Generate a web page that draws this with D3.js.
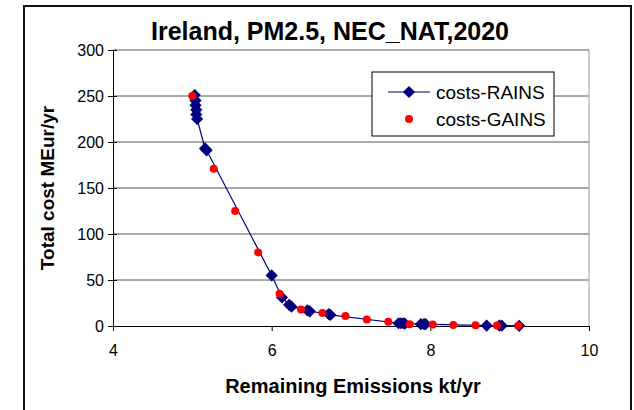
<!DOCTYPE html>
<html>
<head>
<meta charset="utf-8">
<script src="https://cdn.jsdelivr.net/npm/d3@7"></script>
<style>
  body { margin: 0; background: #fff; }
  svg { display: block; font-family: Arial, "Liberation Sans", sans-serif; }
</style>
</head>
<body>
<div id="chart"></div>
<script>
// costs-RAINS curve (emissions kt/yr, cost MEur/yr)
const rainsX = [5.03, 5.04, 5.04, 5.05, 5.05, 5.06, 5.16, 5.18, 6.00, 6.13, 6.22, 6.25, 6.45, 6.48, 6.72, 6.74, 7.60, 7.63, 7.66, 7.68, 7.88, 7.92, 7.94, 8.71, 8.87, 8.90, 9.12];
const rainsY = [251, 245, 240, 235, 230, 225, 193, 191, 55, 31, 23, 21, 17, 16, 13, 12, 3, 3, 3, 2.5, 2, 2, 2, 0.5, 0.5, 0.4, 0.2];
// costs-GAINS points
const gainsX = [5.00, 5.27, 5.54, 5.83, 6.10, 6.37, 6.64, 6.93, 7.20, 7.47, 7.74, 8.03, 8.29, 8.57, 8.84, 9.11];
const gainsY = [250, 171, 125, 80, 35, 18, 14, 11, 7, 4.5, 2, 1.5, 1.2, 0.8, 0.5, 0.3];

const xTicks = [4, 6, 8, 10];
const yTicks = [0, 50, 100, 150, 200, 250, 300];

const W = 634, H = 410;
const plot = { left: 113, right: 589, top: 50, bottom: 326 };

const svg = d3.select('#chart').append('svg')
    .attr('width', W)
    .attr('height', H);

// chart area frame
svg.append('rect')
    .attr('x', 24).attr('y', 6)
    .attr('width', 607).attr('height', 420)
    .attr('fill', '#fff')
    .attr('stroke', '#111')
    .attr('stroke-width', 2);

const x = d3.scaleLinear().domain([4, 10]).range([plot.left, plot.right]);
const y = d3.scaleLinear().domain([0, 300]).range([plot.bottom, plot.top]);

// gridlines
svg.append('g')
    .selectAll('line')
    .data(yTicks.filter(d => d > 0))
    .join('line')
    .attr('x1', plot.left).attr('x2', plot.right)
    .attr('y1', d => y(d)).attr('y2', d => y(d))
    .attr('stroke', '#555')
    .attr('stroke-width', 1);

// plot area right border
svg.append('line')
    .attr('x1', plot.right).attr('x2', plot.right)
    .attr('y1', plot.top).attr('y2', plot.bottom)
    .attr('stroke', '#999');

// axes
const yAxis = d3.axisLeft(y).tickValues(yTicks).tickFormat(d3.format('d'))
    .tickSizeInner(5).tickSizeOuter(0).tickPadding(4);
const gy = svg.append('g').attr('transform', `translate(${plot.left},0)`).call(yAxis);
gy.selectAll('.tick line').attr('x2', -5).attr('x1', 4);

const xAxis = d3.axisBottom(x).tickValues(xTicks).tickFormat(d3.format('d'))
    .tickSizeInner(5).tickSizeOuter(0).tickPadding(14);
const gx = svg.append('g').attr('transform', `translate(0,${plot.bottom})`).call(xAxis);

[gx, gy].forEach(g => {
    g.select('.domain').attr('stroke', '#000');
    g.selectAll('.tick line').attr('stroke', '#000');
    g.selectAll('text').attr('font-size', 16).attr('fill', '#000')
        .attr('font-family', 'Arial, "Liberation Sans", sans-serif');
});

// RAINS line + diamonds
const rains = rainsX.map((v, i) => [v, rainsY[i]]);
const gains = gainsX.map((v, i) => [v, gainsY[i]]);

svg.append('path')
    .datum(rains)
    .attr('fill', 'none')
    .attr('stroke', '#000080')
    .attr('stroke-width', 1.2)
    .attr('d', d3.line().x(d => x(d[0])).y(d => y(d[1])));

const diamond = d3.symbol().type(d3.symbolDiamond2).size(95);

svg.append('g')
    .selectAll('path')
    .data(rains)
    .join('path')
    .attr('transform', d => `translate(${x(d[0])},${y(d[1])})`)
    .attr('d', diamond)
    .attr('fill', '#000080');

svg.append('g')
    .selectAll('circle')
    .data(gains)
    .join('circle')
    .attr('cx', d => x(d[0]))
    .attr('cy', d => y(d[1]))
    .attr('r', 4)
    .attr('fill', '#ff0000');

// title & axis titles
svg.append('text')
    .attr('x', 330).attr('y', 40)
    .attr('text-anchor', 'middle')
    .attr('font-size', 25).attr('font-weight', 'bold')
    .text('Ireland, PM2.5, NEC_NAT,2020');

svg.append('text')
    .attr('x', 353).attr('y', 393)
    .attr('text-anchor', 'middle')
    .attr('font-size', 20).attr('font-weight', 'bold')
    .text('Remaining Emissions kt/yr');

svg.append('text')
    .attr('transform', `translate(54,${(plot.top + plot.bottom) / 2}) rotate(-90)`)
    .attr('text-anchor', 'middle')
    .attr('font-size', 19).attr('font-weight', 'bold')
    .text('Total cost MEur/yr');

// legend
const lg = svg.append('g').attr('transform', 'translate(372,72)');
lg.append('rect')
    .attr('width', 182).attr('height', 64)
    .attr('fill', '#fff')
    .attr('stroke', '#000');
lg.append('line')
    .attr('x1', 16).attr('x2', 58).attr('y1', 20).attr('y2', 20)
    .attr('stroke', '#000080').attr('stroke-width', 1.2);
lg.append('path')
    .attr('transform', 'translate(37,20)')
    .attr('d', diamond)
    .attr('fill', '#000080');
lg.append('circle')
    .attr('cx', 37).attr('cy', 47).attr('r', 4)
    .attr('fill', '#ff0000');
lg.selectAll('text.lbl')
    .data(['costs-RAINS', 'costs-GAINS'])
    .join('text')
    .attr('class', 'lbl')
    .attr('x', 64)
    .attr('y', (d, i) => 27 + i * 27)
    .attr('font-size', 19)
    .text(d => d);
</script>
</body>
</html>
